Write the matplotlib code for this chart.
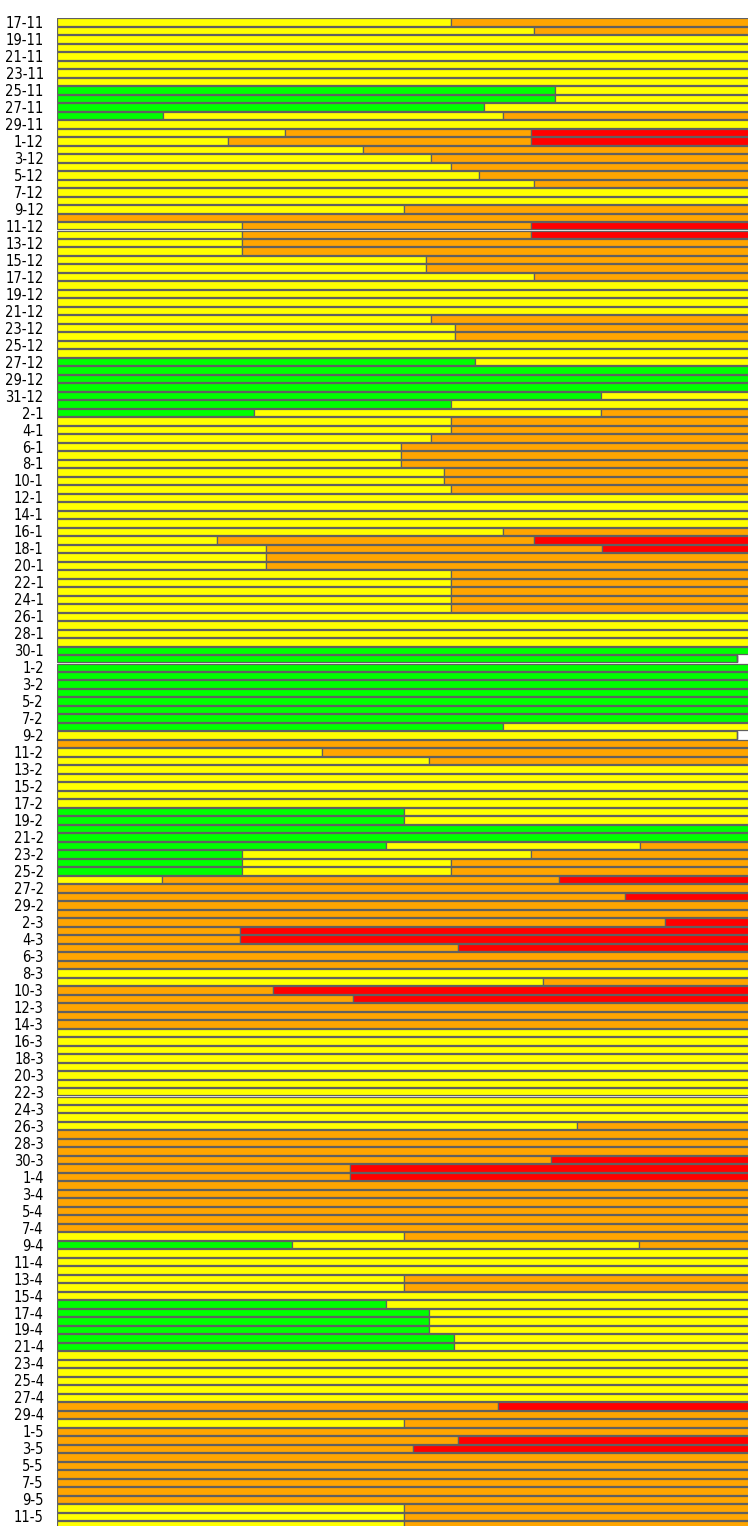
import pandas as pd
import matplotlib.pyplot as plt
from matplotlib import font_manager


# Daily share (%) of each status, 17 Nov 2023 .. 12 May 2024
days = pd.date_range("2023-11-17", "2024-05-12", freq="D")

green = [
    # Nov 17-30
    0, 0, 0, 0, 0, 0, 0, 0, 71.8, 71.8, 61.6, 15.3, 0, 0,
    # Dec
    0, 0, 0, 0, 0, 0, 0, 0, 0, 0,
    0, 0, 0, 0, 0, 0, 0, 0, 0, 0,
    0, 0, 0, 0, 0, 0, 60.3, 100, 100, 100, 78.5,
    # Jan
    56.8, 28.4, 0, 0, 0, 0, 0, 0, 0, 0,
    0, 0, 0, 0, 0, 0, 0, 0, 0, 0,
    0, 0, 0, 0, 0, 0, 0, 0, 0, 100, 98.1,
    # Feb
    100, 100, 100, 100, 100, 100, 100, 64.4, 0, 0,
    0, 0, 0, 0, 0, 0, 0, 50.1, 50.1, 100,
    100, 47.5, 26.7, 26.7, 26.7, 0, 0, 0, 0,
    # Mar
    0, 0, 0, 0, 0, 0, 0, 0, 0, 0,
    0, 0, 0, 0, 0, 0, 0, 0, 0, 0,
    0, 0, 0, 0, 0, 0, 0, 0, 0, 0, 0,
    # Apr
    0, 0, 0, 0, 0, 0, 0, 0, 33.9, 0,
    0, 0, 0, 0, 0, 47.5, 53.7, 53.7, 53.7, 57.3,
    57.3, 0, 0, 0, 0, 0, 0, 0, 0, 0,
    # May 1-12
    0, 0, 0, 0, 0, 0, 0, 0, 0, 0, 0, 0,
]

yellow = [
    # Nov 17-30
    56.8, 68.9, 100, 100, 100, 100, 100, 100, 28.2, 28.2, 38.4, 49.1, 100, 32.9,
    # Dec
    24.7, 44.2, 54.0, 56.8, 60.9, 68.9, 100, 100, 50.1, 0,
    26.7, 26.7, 26.7, 26.7, 53.2, 53.2, 68.9, 100, 100, 100,
    100, 54.0, 57.4, 57.4, 100, 100, 39.7, 0, 0, 0, 21.5,
    # Jan
    43.2, 50.1, 56.8, 56.8, 54.0, 49.7, 49.7, 49.7, 55.9, 55.9,
    56.8, 100, 100, 100, 100, 64.4, 23.1, 30.2, 30.2, 30.2,
    56.8, 56.8, 56.8, 56.8, 56.8, 100, 100, 100, 100, 0, 0,
    # Feb
    0, 0, 0, 0, 0, 0, 0, 35.6, 98.1, 0,
    38.3, 53.7, 100, 100, 100, 100, 100, 49.9, 49.9, 0,
    0, 36.6, 41.7, 30.1, 30.1, 15.2, 0, 0, 0,
    # Mar
    0, 0, 0, 0, 0, 0, 0, 100, 70.2, 0,
    0, 0, 0, 0, 100, 100, 100, 100, 100, 100,
    100, 100, 100, 100, 100, 75.1, 0, 0, 0, 0, 0,
    # Apr
    0, 0, 0, 0, 0, 0, 0, 50.1, 50.1, 100,
    100, 100, 50.1, 50.1, 100, 52.5, 46.3, 46.3, 46.3, 42.7,
    42.7, 100, 100, 100, 100, 100, 100, 0, 0, 50.1,
    # May 1-12
    0, 0, 0, 0, 0, 0, 0, 0, 0, 50.1, 50.1, 50.1,
]

orange = [
    # Nov 17-30
    43.2, 31.1, 0, 0, 0, 0, 0, 0, 0, 0, 0, 35.6, 0, 35.5,
    # Dec
    43.7, 55.8, 46.0, 43.2, 39.1, 31.1, 0, 0, 49.9, 100,
    41.7, 41.7, 73.3, 73.3, 46.8, 46.8, 31.1, 0, 0, 0,
    0, 46.0, 42.6, 42.6, 0, 0, 0, 0, 0, 0, 0,
    # Jan
    0, 21.5, 43.2, 43.2, 46.0, 50.3, 50.3, 50.3, 44.1, 44.1,
    43.2, 0, 0, 0, 0, 35.6, 45.8, 48.4, 69.8, 69.8,
    43.2, 43.2, 43.2, 43.2, 43.2, 0, 0, 0, 0, 0, 0,
    # Feb
    0, 0, 0, 0, 0, 0, 0, 0, 0, 100,
    61.7, 46.3, 0, 0, 0, 0, 0, 0, 0, 0,
    0, 15.9, 31.6, 43.2, 43.2, 57.2, 100, 82.0, 100,
    # Mar
    100, 87.7, 26.4, 26.4, 57.9, 100, 100, 0, 29.8, 31.1,
    42.7, 100, 100, 100, 0, 0, 0, 0, 0, 0,
    0, 0, 0, 0, 0, 24.9, 100, 100, 100, 71.3, 42.3,
    # Apr
    42.3, 100, 100, 100, 100, 100, 100, 49.9, 16.0, 0,
    0, 0, 49.9, 49.9, 0, 0, 0, 0, 0, 0,
    0, 0, 0, 0, 0, 0, 0, 63.7, 100, 49.9,
    # May 1-12
    100, 57.9, 51.4, 100, 100, 100, 100, 100, 100, 49.9, 49.9, 49.9,
]

red = [
    # Nov 17-30
    0, 0, 0, 0, 0, 0, 0, 0, 0, 0, 0, 0, 0, 31.6,
    # Dec
    31.6, 0, 0, 0, 0, 0, 0, 0, 0, 0,
    31.6, 31.6, 0, 0, 0, 0, 0, 0, 0, 0,
    0, 0, 0, 0, 0, 0, 0, 0, 0, 0, 0,
    # Jan
    0, 0, 0, 0, 0, 0, 0, 0, 0, 0,
    0, 0, 0, 0, 0, 0, 31.1, 21.4, 0, 0,
    0, 0, 0, 0, 0, 0, 0, 0, 0, 0, 0,
    # Feb
    0, 0, 0, 0, 0, 0, 0, 0, 0, 0,
    0, 0, 0, 0, 0, 0, 0, 0, 0, 0,
    0, 0, 0, 0, 0, 27.6, 0, 18.0, 0,
    # Mar
    0, 12.3, 73.6, 73.6, 42.1, 0, 0, 0, 0, 68.9,
    57.3, 0, 0, 0, 0, 0, 0, 0, 0, 0,
    0, 0, 0, 0, 0, 0, 0, 0, 0, 28.7, 57.7,
    # Apr
    57.7, 0, 0, 0, 0, 0, 0, 0, 0, 0,
    0, 0, 0, 0, 0, 0, 0, 0, 0, 0,
    0, 0, 0, 0, 0, 0, 0, 36.3, 0, 0,
    # May 1-12
    0, 42.1, 48.6, 0, 0, 0, 0, 0, 0, 0, 0, 0,
]

series = [
    (green, "#00ff00"),
    (yellow, "#ffff00"),
    (orange, "#ffa500"),
    (red, "#ff0000"),
]

labels = [f"{d.day}-{d.month}" for d in days]


# Pick a narrow font for the date labels
fonts = font_manager.fontManager.ttflist
if any(f.name == "DejaVu Sans" and f.stretch == "condensed" for f in fonts):
    label_font = dict(family="DejaVu Sans", stretch="condensed", size=10.5)
elif any(f.name == "Liberation Sans Narrow" for f in fonts):
    label_font = dict(family="Liberation Sans Narrow", size=12)
else:
    label_font = dict(family="DejaVu Sans", size=9.5)

fig = plt.figure(figsize=(7.48, 15.26), dpi=100)
ax = fig.add_axes([57 / 748, -3 / 1526, 693 / 748, 1511.25 / 1526])

# Stacked horizontal bars
pos = list(range(len(days)))
left = [0.0] * len(days)
for values, color in series:
    ax.barh(pos, values, left=left, height=0.88, color=color,
            edgecolor="#606060", linewidth=0.9)
    left = [a + b for a, b in zip(left, values)]

ax.set_xlim(0, 100)
ax.set_ylim(len(days) - 0.5, -0.5)

ax.set_yticks(pos[::2])
ax.set_yticklabels(labels[::2], fontsize=label_font["size"],
                   family=label_font["family"],
                   fontstretch=label_font.get("stretch", "normal"))
ax.set_xticks([])
ax.tick_params(axis="y", length=0, pad=9.5)
for side in ["top", "right", "bottom", "left"]:
    ax.spines[side].set_visible(False)

fig.savefig("out.png", dpi=100)
plt.close(fig)
